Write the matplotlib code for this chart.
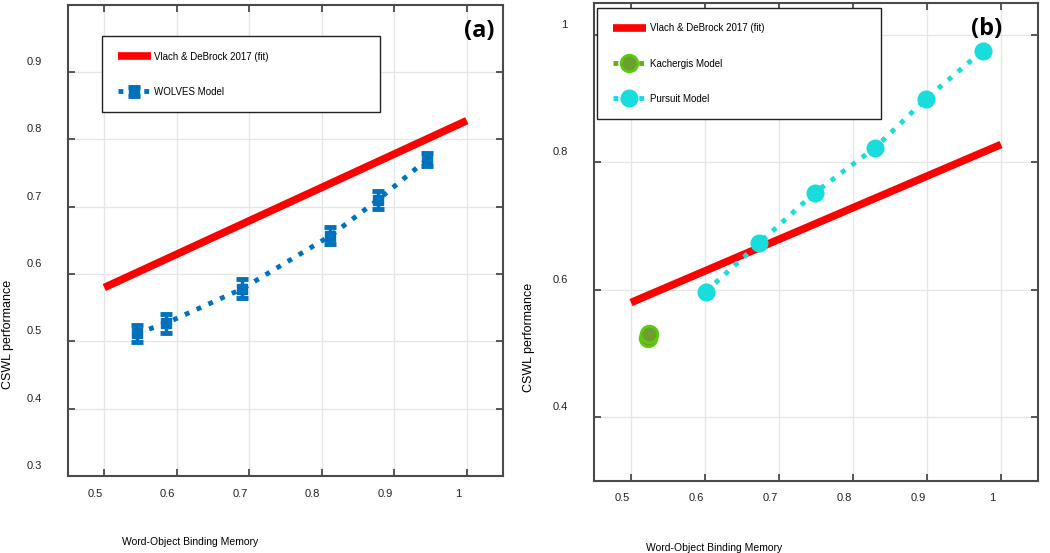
import matplotlib
matplotlib.use('Agg')
import matplotlib.pyplot as plt
import matplotlib.transforms as mtransforms
import numpy as np

# fit line from Vlach & DeBrock 2017
fit_x = [0.5, 1.0]
fit_y = [0.58, 0.828]

# panel (a): WOLVES model
wolves_x = [0.545, 0.585, 0.690, 0.812, 0.877, 0.945]
wolves_y = [0.512, 0.527, 0.578, 0.657, 0.710, 0.770]
wolves_err = [0.013, 0.014, 0.014, 0.013, 0.013, 0.010]

# panel (b): Kachergis and Pursuit models
kach_x = [0.523, 0.525]
kach_y = [0.525, 0.530]
kach_err = [0.004, 0.004]
pursuit_x = [0.601, 0.673, 0.748, 0.830, 0.899, 0.975]
pursuit_y = [0.597, 0.673, 0.752, 0.823, 0.900, 0.975]
pursuit_err = [0.004, 0.004, 0.004, 0.004, 0.004, 0.004]

xticks = [0.5, 0.6, 0.7, 0.8, 0.9, 1.0]
xtick_labels = ['0.5', '0.6', '0.7', '0.8', '0.9', '1']
yticks_a = [0.3, 0.4, 0.5, 0.6, 0.7, 0.8, 0.9]
yticks_b = [0.4, 0.6, 0.8, 1.0]
ytick_labels_b = ['0.4', '0.6', '0.8', '1']

plt.rcParams['font.family'] = ['Liberation Sans', 'DejaVu Sans']

fig = plt.figure(figsize=(10.5, 5.53), dpi=100)
ax1 = fig.add_axes([0.0648, 0.1392, 0.4143, 0.852])
ax2 = fig.add_axes([0.5657, 0.1302, 0.4229, 0.8644])

blue = '#0072BD'
cyan = '#19DCDC'
green_edge = '#5CCB10'
green_face = '#6E9E2E'
spine_col = '#4a4a4a'


def style_axes(ax, yticks, ylabels, ylim):
    ax.set_xlim(0.45, 1.05)
    ax.set_ylim(*ylim)
    ax.set_xticks(xticks)
    ax.set_xticklabels(xtick_labels)
    ax.set_yticks(yticks)
    ax.set_yticklabels(ylabels)
    ax.grid(True, color='#e6e6e6', lw=1.0)
    ax.set_axisbelow(True)
    for s in ax.spines.values():
        s.set_color(spine_col)
        s.set_linewidth(1.5)
    ax.tick_params(direction='in', length=5, width=1.3, color=spine_col,
                   top=True, right=True, labelsize=8, labelcolor='#222222')
    ax.tick_params(axis='y', pad=19)
    ax.tick_params(axis='x', pad=9)
    # labels in the original sit a little left / above their ticks
    off_x = mtransforms.ScaledTranslation(-9 / 100, 0, fig.dpi_scale_trans)
    off_y = mtransforms.ScaledTranslation(0, 11 / 100, fig.dpi_scale_trans)
    for lab in ax.get_xticklabels():
        lab.set_transform(lab.get_transform() + off_x)
    for lab in ax.get_yticklabels():
        lab.set_transform(lab.get_transform() + off_y)


# ---- panel (a)
ax1.plot(fit_x, fit_y, color='red', lw=5.5, solid_capstyle='butt',
         label='Vlach & DeBrock 2017 (fit)', zorder=3)
ax1.errorbar(wolves_x, wolves_y, yerr=wolves_err, color=blue, ls=':', lw=3.5,
             marker='s', ms=7, capsize=4.5, capthick=3.5, elinewidth=2.5,
             label='WOLVES Model', zorder=4)
style_axes(ax1, yticks_a, [str(v) for v in yticks_a], (0.3, 1.0))
ax1.set_xlabel('Word-Object Binding Memory', fontsize=7.5)
ax1.xaxis.set_label_coords(0.28, -0.13)
ax1.set_ylabel('CSWL performance', fontsize=9)
ax1.yaxis.set_label_coords(-0.125, 0.30)
ax1.text(0.945, 0.945, '(a)', transform=ax1.transAxes, fontsize=17,
         fontweight='bold', family=['Open Sans', 'DejaVu Sans'],
         ha='center', va='center')
leg1 = ax1.legend(loc='upper left', bbox_to_anchor=(0.078, 0.934, 0.639, 0.0),
                  mode='expand', fontsize=7, handlelength=3.4,
                  handletextpad=0.4, labelspacing=2.6, borderpad=1.6,
                  borderaxespad=0, fancybox=False, edgecolor='#222222',
                  framealpha=1)
leg1.get_frame().set_linewidth(1.0)

# ---- panel (b)
ax2.plot(fit_x, fit_y, color='red', lw=5.5, solid_capstyle='butt',
         label='Vlach & DeBrock 2017 (fit)', zorder=3)
ax2.errorbar(kach_x, kach_y, yerr=kach_err, color='#6BAA1E', ls=':', lw=3.5,
             marker='o', ms=12, mfc=green_face, mec=green_edge, mew=2,
             capsize=4, capthick=3, elinewidth=2.5,
             label='Kachergis Model', zorder=4)
ax2.errorbar(pursuit_x, pursuit_y, yerr=pursuit_err, color=cyan, ls=':',
             lw=3.5, marker='o', ms=12, capsize=4, capthick=3, elinewidth=2.5,
             label='Pursuit Model', zorder=5)
style_axes(ax2, yticks_b, ytick_labels_b, (0.3, 1.05))
ax2.set_xlabel('Word-Object Binding Memory', fontsize=7.5)
ax2.xaxis.set_label_coords(0.27, -0.13)
ax2.set_ylabel('CSWL performance', fontsize=9)
ax2.yaxis.set_label_coords(-0.133, 0.30)
ax2.text(0.885, 0.945, '(b)', transform=ax2.transAxes, fontsize=17,
         fontweight='bold', family=['Open Sans', 'DejaVu Sans'],
         ha='center', va='center')
leg2 = ax2.legend(loc='upper left', bbox_to_anchor=(0.007, 0.99, 0.64, 0.0),
                  mode='expand', fontsize=7, handlelength=3.4,
                  handletextpad=0.4, labelspacing=2.6, borderpad=1.6,
                  borderaxespad=0, fancybox=False, edgecolor='#222222',
                  framealpha=1)
leg2.get_frame().set_linewidth(1.0)

fig.savefig('out.png', dpi=100)
